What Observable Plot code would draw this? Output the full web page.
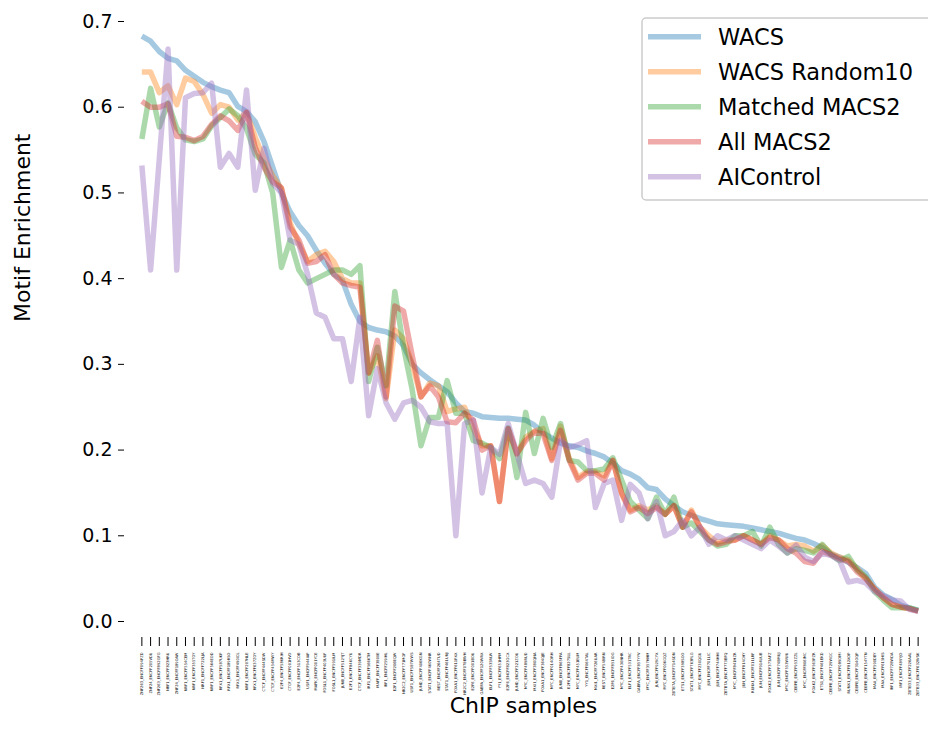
<!DOCTYPE html>
<html>
<head>
<meta charset="utf-8">
<script src="https://cdn.jsdelivr.net/npm/d3@7"></script>
<script src="https://cdn.jsdelivr.net/npm/@observablehq/plot@0.6"></script>
<style>
  html, body { margin: 0; padding: 0; background: white; overflow: hidden; }
  #wrap { position: relative; width: 928px; height: 744px; overflow: hidden; font-family: "DejaVu Sans", sans-serif; }
  #legend { position: absolute; left: 0; top: 0; pointer-events: none; }
</style>
</head>
<body>
<div id="wrap"></div>
<script>
const samples = [
  "ZNF263_ENCFF094PZD","ZNF24_ENCFF205VDU","ZNF263_ENCFF892GFG","NRF1_ENCFF823HRU","ZNF24_ENCFF189OAW",
  "NRF1_ENCFF554CEM","NRF1_ENCFF355TOY","NRF1_ENCFF722LJA","NRF1_ENCFF564EOD","RFX1_ENCFF587UKP",
  "RFX1_ENCFF189RSO","RFX1_ENCFF490ICL","NRF1_ENCFF207NLE","RFX1_ENCFF637ZOY","CTCF_ENCFF444SDW",
  "CTCF_ENCFF454MWY","E2F4_ENCFF586RIH","CTCF_ENCFF001HVO","E2F4_ENCFF513COB","USF1_ENCFF944IAP",
  "MAFK_ENCFF001YCE","FOSL1_ENCFF403UUF","FOSL1_ENCFF591ILM","JUNB_ENCFF512YJT","E2F1_ENCFF846CYU",
  "CTCF_ENCFF339MDR","IRF1_ENCFF566KTM","MAFF_ENCFF380IIE","IRF1_ENCFF259IHL","E2F1_ENCFF206EQW",
  "NR2C2_ENCFF771MGF","USF1_ENCFF587WWS","JUND_ENCFF406KGN","STAT1_ENCFF460WNR","REST_ENCFF264TUD",
  "STAT1_ENCFF461UNJ","FOXA1_ENCFF611PXX","NR2C2_ENCFF078BWH","E2F6_ENCFF001BOU","GABPA_ENCFF120WRX",
  "ELF1_ENCFF535RLW","YY1_ENCFF651HPM","E2F6_ENCFF823GCX","JUND_ENCFF321ZOU","MYC_ENCFF489RUD",
  "MXI1_ENCFF380QNA","FOXA1_ENCFF364QJE","MYC_ENCFF014ORH","JUNB_ENCFF865FPA","E2F6_ENCFF827SLL",
  "MYC_ENCFF451EUM","YY1_ENCFF064TAL","MXI1_ENCFF726UAR","REST_ENCFF548IRN","E2F6_ENCFF851IOG",
  "MYC_ENCFF430NHR","ELF1_ENCFF531TRC","GABPA_ENCFF857YYV","MYC_ENCFF357HHM","JUN_ENCFF929CYX",
  "MYC_ENCFF006GQZ","ZBTB7A_ENCFF714SDN","ETS1_ENCFF398SOO","STAT1_ENCFF763PLG","MYC_ENCFF230QGU",
  "JUN_ENCFF701LIC","JUN_ENCFF744HHI","ZBTB7A_ENCFF773BFQ","MYC_ENCFF841HZR","JUN_ENCFF814CHY",
  "RUNX1_ENCFF011LRF","JUN_ENCFF914UUB","FOXK2_ENCFF373AFZ","JUN_ENCFF748MUJ","MYC_ENCFF553WWU",
  "CEBPB_ENCFF953ZZL","MYC_ENCFF806IMC","FOXK2_ENCFF563PZR","ETS1_ENCFF461EKD","CEBPB_ENCFF729WGC",
  "STAT1_ENCFF089OMI","RUNX1_ENCFF812XOP","CEBPB_ENCFF314OQP","CEBPB_ENCFF154YTN","MAX_ENCFF590DBY",
  "MAX_ENCFF615HIS","IRF1_ENCFF728WDA","IRF1_ENCFF489YJO","ZBTB33_ENCFF226AAL","ZBTB33_ENCFF632WSK"
];

const seriesNames = ["WACS", "WACS Random10", "Matched MACS2", "All MACS2", "AIControl"];
const seriesColors = ["#1f77b4", "#ff7f0e", "#2ca02c", "#d62728", "#9467bd"];

const wacs = [
  .683,.677,.665,.657,.654,.643,.636,.629,.624,.620,
  .617,.601,.595,.583,.560,.530,.500,.478,.462,.450,
  .433,.418,.405,.398,.370,.350,.343,.340,.338,.333,
  .322,.300,.290,.282,.275,.268,.255,.245,.243,.239,
  .238,.237,.237,.236,.235,.229,.220,.214,.208,.205,
  .203,.199,.196,.192,.185,.176,.172,.166,.156,.154,
  .143,.135,.128,.124,.120,.117,.114,.113,.112,.111,
  .109,.107,.105,.103,.100,.097,.095,.091,.086,.079,
  .075,.069,.063,.056,.040,.031,.026,.019,.016,.013
];
const wacsRandom10 = [
  .641,.641,.617,.625,.603,.634,.630,.615,.593,.603,
  .600,.585,.594,.565,.540,.520,.505,.465,.440,.420,
  .428,.432,.420,.400,.395,.395,.290,.310,.260,.340,
  .330,.300,.262,.278,.275,.245,.248,.250,.225,.205,
  .205,.140,.225,.195,.215,.222,.225,.190,.228,.190,
  .168,.175,.175,.170,.188,.150,.130,.135,.130,.135,
  .125,.135,.110,.130,.110,.100,.092,.095,.095,.100,
  .095,.090,.100,.095,.088,.090,.088,.082,.089,.080,
  .075,.072,.062,.050,.038,.028,.020,.017,.015,.012
];
const matchedMacs2 = [
  .563,.622,.577,.605,.576,.562,.560,.563,.578,.588,
  .598,.590,.575,.545,.535,.500,.413,.445,.410,.395,
  .400,.405,.410,.410,.405,.415,.280,.320,.275,.385,
  .320,.270,.205,.238,.238,.281,.243,.243,.211,.208,
  .203,.190,.226,.168,.244,.196,.237,.203,.231,.188,
  .186,.176,.176,.178,.191,.165,.140,.130,.120,.145,
  .125,.145,.110,.115,.105,.095,.088,.090,.100,.100,
  .105,.088,.110,.090,.080,.085,.083,.080,.090,.078,
  .071,.076,.060,.052,.035,.025,.016,.016,.016,.013
];
const allMacs2 = [
  .607,.600,.600,.604,.566,.565,.561,.566,.580,.590,
  .584,.573,.594,.553,.530,.513,.506,.460,.445,.418,
  .420,.428,.405,.395,.392,.390,.290,.328,.262,.368,
  .362,.310,.262,.275,.262,.233,.232,.243,.235,.200,
  .205,.140,.225,.196,.211,.221,.219,.188,.223,.188,
  .165,.173,.173,.165,.188,.149,.128,.133,.126,.133,
  .125,.135,.110,.128,.110,.095,.090,.093,.095,.100,
  .095,.090,.098,.095,.085,.080,.070,.068,.082,.078,
  .073,.070,.058,.050,.038,.028,.020,.017,.015,.012
];
const aiControl = [
  .532,.410,.540,.668,.410,.611,.616,.617,.628,.530,
  .546,.530,.620,.503,.552,.511,.500,.445,.440,.405,
  .360,.355,.330,.330,.280,.355,.240,.295,.255,.236,
  .255,.258,.250,.233,.231,.231,.100,.231,.235,.150,
  .203,.195,.231,.196,.161,.165,.161,.145,.211,.203,
  .206,.211,.133,.161,.165,.118,.160,.150,.120,.140,
  .100,.105,.118,.100,.110,.090,.100,.095,.100,.095,
  .090,.085,.095,.088,.080,.089,.075,.070,.080,.077,
  .071,.046,.048,.045,.035,.030,.025,.024,.014,.012
];

const yTicks = [0, 0.1, 0.2, 0.3, 0.4, 0.5, 0.6, 0.7];

const seriesValues = [wacs, wacsRandom10, matchedMacs2, allMacs2, aiControl];
const rows = seriesValues.flatMap((vals, s) =>
  vals.map((v, i) => ({sample: samples[i], value: v, series: seriesNames[s]}))
);

const chart = Plot.plot({
  width: 928,
  height: 744,
  marginTop: 6,
  marginLeft: 124,
  marginRight: 6,
  marginBottom: 107,
  style: {fontFamily: "DejaVu Sans, sans-serif", background: "white", color: "black"},
  x: {type: "point", domain: samples, range: [137, 922]},
  y: {domain: [0, 0.7], range: [621, 21]},
  color: {domain: seriesNames, range: seriesColors},
  marks: [
    Plot.axisY({ticks: yTicks, tickFormat: d3.format(".1f"), tickSize: 6, tickPadding: 6, fontSize: 19, label: null}),
    Plot.axisX({tickRotate: -90, tickSize: 9, tickPadding: 6, fontSize: 3.7, label: null}),
    Plot.line(rows, {x: "sample", y: "value", z: "series", stroke: "series",
      strokeWidth: 5.5, strokeOpacity: 0.4, strokeLinejoin: "round", strokeLinecap: "butt"}),
    Plot.text(["Motif Enrichment"], {frameAnchor: "left", dx: -102, rotate: -90, fontSize: 22, fill: "black"}),
    Plot.text(["ChIP samples"], {frameAnchor: "bottom", lineAnchor: "middle", dy: 68, fontSize: 22, fill: "black"})
  ]
});

const wrap = document.getElementById("wrap");
wrap.appendChild(chart);

// Legend (upper right, matplotlib style)
const ns = "http://www.w3.org/2000/svg";
const leg = document.createElementNS(ns, "svg");
leg.setAttribute("id", "legend");
leg.setAttribute("width", 928);
leg.setAttribute("height", 744);
const box = document.createElementNS(ns, "rect");
box.setAttribute("x", 642); box.setAttribute("y", 18);
box.setAttribute("width", 300); box.setAttribute("height", 182);
box.setAttribute("rx", 4);
box.setAttribute("fill", "white"); box.setAttribute("fill-opacity", 0.8);
box.setAttribute("stroke", "#cccccc"); box.setAttribute("stroke-width", 1.5);
leg.appendChild(box);
seriesNames.forEach((name, i) => {
  const y = 36.7 + i * 35;
  const ln = document.createElementNS(ns, "line");
  ln.setAttribute("x1", 648); ln.setAttribute("x2", 701);
  ln.setAttribute("y1", y); ln.setAttribute("y2", y);
  ln.setAttribute("stroke", seriesColors[i]); ln.setAttribute("stroke-opacity", 0.4);
  ln.setAttribute("stroke-width", 5.5);
  leg.appendChild(ln);
  const tx = document.createElementNS(ns, "text");
  tx.setAttribute("x", 718); tx.setAttribute("y", y);
  tx.setAttribute("dy", "0.36em");
  tx.setAttribute("font-size", 22.5);
  tx.setAttribute("font-family", "DejaVu Sans, sans-serif");
  tx.textContent = name;
  leg.appendChild(tx);
});
wrap.appendChild(leg);
</script>
</body>
</html>
